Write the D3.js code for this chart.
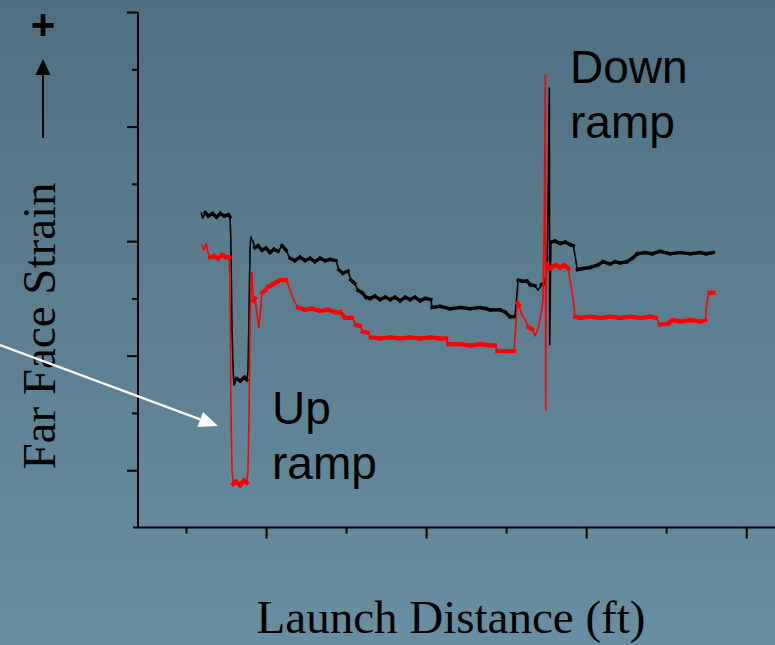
<!DOCTYPE html>
<html>
<head>
<meta charset="utf-8">
<script src="https://cdn.jsdelivr.net/npm/d3@7"></script>
<style>
  html, body { margin: 0; padding: 0; overflow: hidden; }
  svg { display: block; }
</style>
</head>
<body>
<svg id="chart" width="775" height="645"></svg>
<script>
// strain gauge traces (ft, microstrain-ish units)
const blackDist = [11.9, 12.1, 12.4, 12.8, 13.3, 13.8, 14.3, 14.8, 15.3, 15.5, 15.6, 15.75, 15.9, 16.0, 16.3, 16.8, 17.3, 17.6, 17.75, 17.9,
    18.0, 18.1, 18.4, 18.6, 19.0, 19.5, 20.0, 20.5, 21.0, 21.5, 22.0, 22.5, 23.0, 23.6, 24.25, 24.9, 25.5, 26.1, 26.75, 27.4,
    28.0, 28.75, 29.1, 29.6, 30.25, 30.6, 31.1, 31.5, 32.0, 32.5, 33.0, 33.6, 34.25, 34.9, 35.5, 36.1, 36.75, 37.4, 38.0, 38.6,
    39.25, 39.9, 40.6, 40.75, 41.75, 43.0, 44.25, 45.5, 46.75, 47.5, 48.0, 49.25, 49.9, 50.5, 51.1, 51.4, 51.5, 52.0, 52.6, 53.0,
    53.6, 54.0, 54.4, 54.75, 55.1, 55.25, 55.4, 55.45, 55.5, 55.6, 56.1, 56.75, 57.4, 58.0, 58.4, 58.6, 58.9, 59.5, 60.5, 61.4,
    62.1, 63.0, 63.6, 64.25, 65.1, 65.75, 66.4, 67.4, 68.25, 69.25, 70.5, 71.75, 73.0, 74.25, 75.0, 75.9];
const blackStrain = [225, 220, 225, 222, 224, 221, 224, 222, 223, 221, 201, 122, 86, 74, 80, 78, 81, 79, 87, 148,
    192, 204, 199, 194, 196, 192, 194, 190, 193, 191, 196, 192, 185, 183, 186, 183, 185, 182, 185, 183,
    184, 183, 175, 172, 174, 166, 163, 157, 155, 151, 150, 152, 149, 151, 149, 151, 148, 151, 149, 151,
    148, 150, 149, 142, 143, 141, 142, 141, 142, 141, 140, 140, 138, 134, 134, 157, 166, 165, 165, 162,
    161, 157, 162, 163, 175, 236, 334, 109, 148, 199, 200, 198, 199, 197, 196, 188, 175, 176, 177, 179,
    182, 180, 182, 181, 182, 185, 189, 190, 189, 191, 189, 190, 189, 190, 189, 190];

const redDist = [12.0, 12.25, 12.5, 12.75, 13.0, 13.5, 14.0, 14.5, 15.0, 15.4, 15.5, 15.6, 15.75, 15.9, 16.25, 16.75, 17.25, 17.6, 17.75, 17.9,
    18.0, 18.1, 18.25, 18.4, 18.6, 18.9, 19.1, 19.4, 19.5, 19.9, 20.25, 20.75, 21.25, 21.75, 22.5, 22.75, 23.1, 23.5, 24.0, 24.9,
    25.75, 26.75, 27.75, 28.6, 29.25, 29.9, 30.75, 31.25, 31.75, 32.1, 32.75, 33.1, 34.25, 35.5, 36.75, 38.0, 39.25, 40.5, 41.75, 42.5,
    42.75, 44.25, 45.5, 46.75, 48.0, 48.6, 48.9, 49.9, 51.0, 51.25, 51.4, 51.6, 52.0, 52.4, 52.75, 53.25, 53.6, 54.0, 54.4, 54.6,
    54.75, 54.9, 54.95, 55.0, 55.1, 55.5, 55.9, 56.25, 56.75, 57.25, 57.75, 58.0, 58.4, 58.6, 59.25, 60.5, 61.75, 63.0, 64.25, 65.5,
    66.75, 68.0, 68.75, 69.25, 70.25, 70.75, 71.75, 73.0, 74.25, 74.9, 75.1, 75.4, 75.9];
const redStrain = [197, 192, 198, 190, 186, 187, 185, 188, 186, 186, 166, 61, 0, -12, -10, -13, -9, -11, 0, 61,
    131, 157, 173, 148, 150, 135, 124, 148, 155, 157, 160, 162, 164, 166, 166, 162, 155, 148, 142, 140,
    141, 139, 140, 138, 138, 133, 133, 127, 126, 121, 120, 116, 115, 116, 115, 116, 115, 116, 115, 115,
    110, 110, 109, 110, 109, 109, 104, 104, 104, 131, 146, 144, 135, 131, 125, 123, 117, 124, 138, 148,
    210, 345, 52, 148, 182, 176, 178, 179, 177, 179, 176, 166, 148, 134, 133, 134, 133, 134, 133, 134,
    133, 134, 133, 127, 128, 131, 130, 131, 130, 131, 148, 155, 155];

const xMajorTicks = [20, 40, 60, 80];
const xMinorTicks = [10, 30, 50, 70];
const yMajorTicks = [0, 100, 200, 300, 400];
const yMinorTicks = [50, 150, 250, 350];

const width = 775, height = 645;
const svg = d3.select("#chart");

// slide background, darker at the top
const grad = svg.append("defs").append("linearGradient")
    .attr("id", "bg")
    .attr("x1", 0).attr("y1", 0)
    .attr("x2", 0).attr("y2", 1);
grad.append("stop").attr("offset", "0%").attr("stop-color", "#4f7082");
grad.append("stop").attr("offset", "100%").attr("stop-color", "#688ea1");

svg.append("rect")
    .attr("width", width)
    .attr("height", height)
    .attr("fill", "url(#bg)");

const x = d3.scaleLinear().domain([4, 83.6]).range([138, 775]);
const y = d3.scaleLinear().domain([-50, 400]).range([527.5, 12]);

// axes: no labels, major + minor ticks
function tickAxis(axis, size) {
    return axis.tickSize(size).tickSizeOuter(0).tickFormat("");
}

const xg = svg.append("g").attr("transform", `translate(0,${y(-50)})`);
xg.append("g").call(tickAxis(d3.axisBottom(x).tickValues(xMajorTicks), 11));
xg.append("g").call(tickAxis(d3.axisBottom(x).tickValues(xMinorTicks), 6));

const yg = svg.append("g").attr("transform", `translate(${x(4)},0)`);
yg.append("g").call(tickAxis(d3.axisLeft(y).tickValues(yMajorTicks), 11));
yg.append("g").call(tickAxis(d3.axisLeft(y).tickValues(yMinorTicks), 6));

svg.selectAll(".domain").remove();
svg.selectAll(".tick line").attr("stroke", "#000").attr("stroke-width", 2);

// axis lines drawn by hand so the x line pokes past the y line a bit
svg.append("line")
    .attr("x1", x(4) - 5).attr("x2", width)
    .attr("y1", y(-50)).attr("y2", y(-50))
    .attr("stroke", "#000").attr("stroke-width", 2);
svg.append("line")
    .attr("x1", x(4)).attr("x2", x(4))
    .attr("y1", y(400)).attr("y2", y(-50))
    .attr("stroke", "#000").attr("stroke-width", 2);

// traces: thin line everywhere, then the flat (noisy) stretches drawn fat
const line = d3.line()
    .x(d => x(d[0]))
    .y(d => y(d[1]));

function drawTrace(pts, color, thin, fat) {
    svg.append("path")
        .datum(pts)
        .attr("d", line)
        .attr("fill", "none")
        .attr("stroke", color)
        .attr("stroke-width", thin)
        .attr("stroke-linejoin", "miter")
        .attr("stroke-miterlimit", 1.5);

    const flat = d3.pairs(pts).filter(([a, b]) => {
        const dx = Math.abs(x(b[0]) - x(a[0]));
        const dy = Math.abs(y(b[1]) - y(a[1]));
        return dy <= Math.max(3, dx * 1.2);
    });
    svg.append("g")
        .selectAll("line")
        .data(flat)
        .join("line")
        .attr("x1", d => x(d[0][0]))
        .attr("y1", d => y(d[0][1]))
        .attr("x2", d => x(d[1][0]))
        .attr("y2", d => y(d[1][1]))
        .attr("stroke", color)
        .attr("stroke-width", fat)
        .attr("stroke-linecap", "square");
}

drawTrace(blackDist.map((d, i) => [d, blackStrain[i]]), "#000", 1.6, 3.4);
drawTrace(redDist.map((d, i) => [d, redStrain[i]]), "#ff0000", 1.6, 4.2);

// axis titles
svg.append("text")
    .text("Launch Distance (ft)")
    .attr("x", 451)
    .attr("y", 633)
    .attr("text-anchor", "middle")
    .style("font-family", "'Liberation Serif', 'Times New Roman', serif")
    .style("font-size", "47px")
    .style("fill", "#000");

svg.append("text")
    .text("Far Face Strain")
    .attr("transform", "translate(55,326) rotate(-90)")
    .attr("text-anchor", "middle")
    .style("font-family", "'Liberation Serif', 'Times New Roman', serif")
    .style("font-size", "47px")
    .style("fill", "#000");

// little "+ ↑" hint above the y title
svg.append("line")
    .attr("x1", 43).attr("x2", 43)
    .attr("y1", 138).attr("y2", 72)
    .attr("stroke", "#000").attr("stroke-width", 2);
svg.append("polygon")
    .attr("points", [[43, 59], [50.5, 75], [35.5, 75]].map(p => p.join(",")).join(" "))
    .attr("fill", "#000");
svg.append("text")
    .text("+")
    .attr("x", 43)
    .attr("y", 39)
    .attr("text-anchor", "middle")
    .style("font-family", "'Liberation Sans', Arial, sans-serif")
    .style("font-weight", "bold")
    .style("font-size", "42px")
    .style("fill", "#000");

// annotations
const labelFont = "'Liberation Sans', Arial, sans-serif";
function addLabel(lines, lx, ly) {
    lines.forEach((t, i) => {
        svg.append("text")
            .text(t)
            .attr("x", lx)
            .attr("y", ly + i * 55)
            .style("font-family", labelFont)
            .style("font-size", "46px")
            .style("fill", "#000");
    });
}
addLabel(["Down", "ramp"], 570, 83);
addLabel(["Up", "ramp"], 272, 424);

// white pointer to the up-ramp dip
const tip = [218, 426], from = [0, 345];
const ang = Math.atan2(tip[1] - from[1], tip[0] - from[0]);
const headLen = 19, headHalf = 8;
const base = [tip[0] - headLen * Math.cos(ang), tip[1] - headLen * Math.sin(ang)];
svg.append("line")
    .attr("x1", from[0]).attr("y1", from[1])
    .attr("x2", base[0]).attr("y2", base[1])
    .attr("stroke", "#fff").attr("stroke-width", 2.2);
svg.append("polygon")
    .attr("points", [
        tip,
        [base[0] + headHalf * Math.sin(ang), base[1] - headHalf * Math.cos(ang)],
        [base[0] - headHalf * Math.sin(ang), base[1] + headHalf * Math.cos(ang)]
    ].map(p => p.join(",")).join(" "))
    .attr("fill", "#fff");
</script>
</body>
</html>
